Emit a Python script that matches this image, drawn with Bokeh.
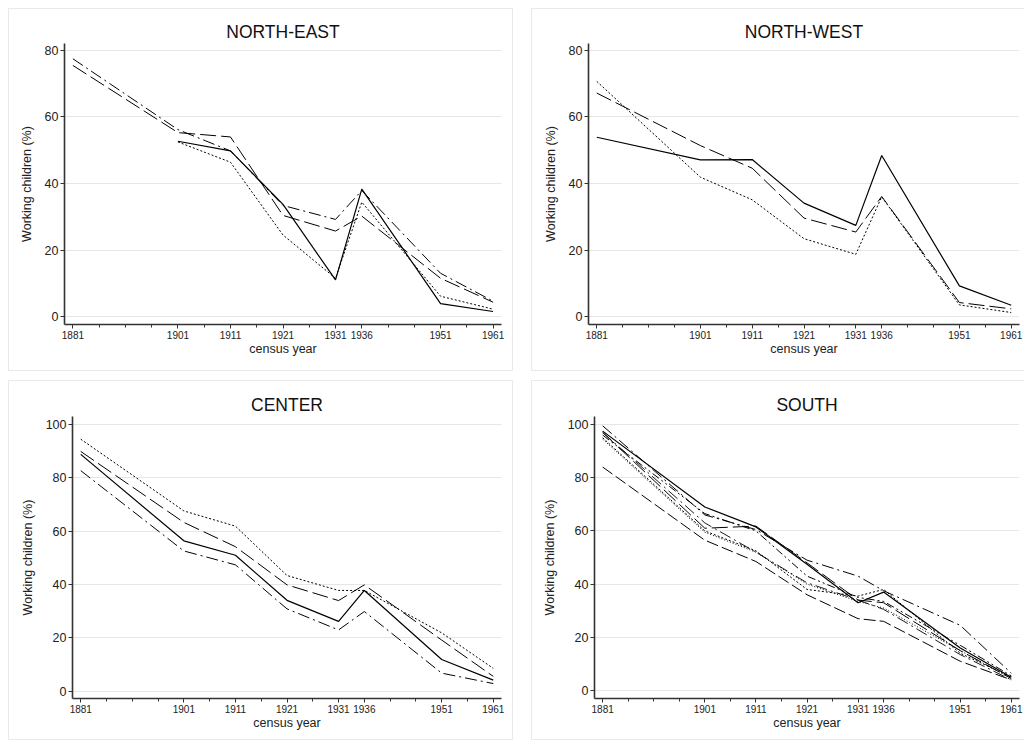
from bokeh.plotting import figure
from bokeh.layouts import column, row
from bokeh.models import FixedTicker, Range1d, Spacer
from bokeh.embed import file_html
from bokeh.resources import INLINE

nan = float("nan")

years = [1881, 1901, 1911, 1921, 1931, 1936, 1951, 1961]
minor_years = [1886, 1891, 1896, 1906, 1916, 1926, 1941, 1946, 1956]

# NORTH-EAST
ne_dashdot = [77.5, 56.2, 49.8, 33.4, 29.2, 37.9, 13.0, 4.6]
ne_dashed = [75.5, 55.3, 54.0, 30.4, 25.7, 30.2, 11.5, 4.3]
ne_solid = [nan, 52.7, 49.8, 33.7, 11.0, 38.3, 3.9, 1.5]
ne_dotted = [nan, 52.5, 46.4, 24.5, 11.5, 34.4, 6.1, 2.2]

# NORTH-WEST
nw_solid = [53.9, 47.1, 47.2, 34.1, 27.4, 48.4, 9.2, 3.4]
nw_dashed = [67.2, 51.4, 44.6, 29.6, 25.4, 36.1, 4.2, 2.3]
nw_dotted = [70.7, 41.9, 35.1, 23.4, 18.7, 36.0, 3.5, 1.2]

# CENTER
ce_dotted = [94.5, 67.6, 61.9, 43.4, 37.8, 37.8, 21.9, 8.6]
ce_dashed = [89.9, 63.3, 54.2, 39.9, 34.0, 39.9, 19.2, 5.6]
ce_solid = [88.8, 56.4, 51.0, 34.1, 26.2, 37.8, 11.9, 4.2]
ce_dashdot = [82.7, 52.6, 47.4, 30.9, 23.0, 29.9, 6.8, 2.9]

# SOUTH
so_solid = [97.5, 69.0, 61.5, 47.5, 33.0, 37.0, 16.0, 5.0]
so_longdash = [97.0, 61.0, 61.8, 48.0, 34.0, 33.0, 15.0, 4.5]
so_dashdot = [99.5, 66.0, 60.5, 49.0, 43.0, 37.5, 24.5, 6.5]
so_dotted = [95.0, 60.0, 52.5, 38.0, 35.5, 38.0, 14.0, 5.0]
so_dash_low = [84.0, 56.5, 48.5, 36.0, 27.0, 26.0, 11.0, 4.0]
so_dashdotdot = [96.0, 66.5, 60.0, 43.0, 35.0, 33.5, 17.0, 5.5]
so_finedot = [94.5, 59.5, 52.0, 40.0, 33.5, 31.0, 15.0, 4.5]
so_dashdot_low = [97.0, 63.0, 52.0, 40.5, 34.0, 30.5, 13.5, 4.0]

DASH = {
    "solid": "solid",
    "dashed": "12 4",
    "dotted": "2 2",
    "dashdot": "12 4 2 4",
    "dashdotdot": "8 3 2 3 2 3",
    "longdash": "16 5",
    "finedot": "1 2",
}

FONT = "Liberation Sans"


def make_panel(title, series, w, h, left, right, top, bottom, ymax, ymin, yticks):
    p = figure(
        width=w, height=h, output_backend="svg", toolbar_location=None,
        x_range=Range1d(1879.4, 1962.6), y_range=Range1d(ymin, ymax),
        min_border_left=left, min_border_right=right,
        min_border_top=top, min_border_bottom=bottom,
        background_fill_color="white", border_fill_color="white",
        styles={"border": "1px solid #e9e9e9", "box-sizing": "border-box"},
    )
    p.outline_line_color = None
    p.title.text = title
    p.title.align = "center"
    p.title.text_font = FONT
    p.title.text_font_size = "17.5px"
    p.title.text_font_style = "normal"
    p.title.text_color = "#111111"
    p.title.standoff = 4

    p.xgrid.grid_line_color = None
    p.ygrid.grid_line_color = "#e6e6e6"
    p.ygrid.grid_line_width = 1

    p.xaxis.ticker = FixedTicker(ticks=years, minor_ticks=minor_years)
    p.yaxis.ticker = FixedTicker(ticks=yticks, minor_ticks=[])
    for ax in (p.xaxis, p.yaxis):
        ax.axis_line_color = "#333333"
        ax.axis_line_width = 1.6
        ax.major_tick_line_color = "#333333"
        ax.minor_tick_line_color = "#333333"
        ax.major_tick_in = 0
        ax.minor_tick_in = 0
        ax.major_label_text_font = FONT
        ax.axis_label_text_font = FONT
        ax.axis_label_text_font_style = "normal"
        ax.major_label_text_color = "#222222"
        ax.axis_label_text_color = "#222222"
    p.xaxis.major_tick_out = 4
    p.xaxis.minor_tick_out = 3
    p.xaxis.major_label_text_font_size = "10px"
    p.xaxis.major_label_standoff = 2
    p.xaxis.axis_label = "census year"
    p.xaxis.axis_label_text_font_size = "12.5px"
    p.xaxis.axis_label_standoff = 0
    p.yaxis.major_tick_out = 4
    p.yaxis.minor_tick_out = 0
    p.yaxis.major_label_text_font_size = "12.5px"
    p.yaxis.major_label_standoff = 2
    p.yaxis.axis_label = "Working children (%)"
    p.yaxis.axis_label_text_font_size = "12.5px"
    p.yaxis.axis_label_standoff = 8

    for vals, style, lw in series:
        p.line(years, vals, line_color="black", line_width=lw,
               line_dash=DASH[style])
    return p


p1 = make_panel("NORTH-EAST", [
    (ne_dashdot, "dashdot", 1.0), (ne_dashed, "longdash", 1.0),
    (ne_solid, "solid", 1.2), (ne_dotted, "dotted", 1.0)],
    505, 363, 55, 13, 34, 46, 82.1, -2.4, [0, 20, 40, 60, 80])
p2 = make_panel("NORTH-WEST", [
    (nw_solid, "solid", 1.2), (nw_dashed, "longdash", 1.0),
    (nw_dotted, "dotted", 1.0)],
    494, 363, 56, 7, 34, 48, 82.1, -2.4, [0, 20, 40, 60, 80])
p3 = make_panel("CENTER", [
    (ce_dotted, "dotted", 1.0), (ce_dashed, "longdash", 1.0),
    (ce_solid, "solid", 1.2), (ce_dashdot, "dashdot", 1.0)],
    505, 360, 63, 13, 35, 42, 103, -2.7, [0, 20, 40, 60, 80, 100])
p4 = make_panel("SOUTH", [
    (so_solid, "solid", 1.2), (so_longdash, "longdash", 1.0),
    (so_dashdot, "dashdot", 1.0), (so_dotted, "dotted", 1.0),
    (so_dash_low, "dashed", 1.0), (so_dashdotdot, "dashdotdot", 1.0),
    (so_finedot, "finedot", 1.0), (so_dashdot_low, "dashdot", 0.9)],
    494, 360, 62, 7, 35, 43, 103, -3.0, [0, 20, 40, 60, 80, 100])

grid = column(row(p1, p2, spacing=18), row(p3, p4, spacing=18), spacing=9)
layout = column(Spacer(height=8), row(Spacer(width=8), grid, spacing=0), spacing=0)

open("out.html", "w").write(file_html(layout, INLINE))
